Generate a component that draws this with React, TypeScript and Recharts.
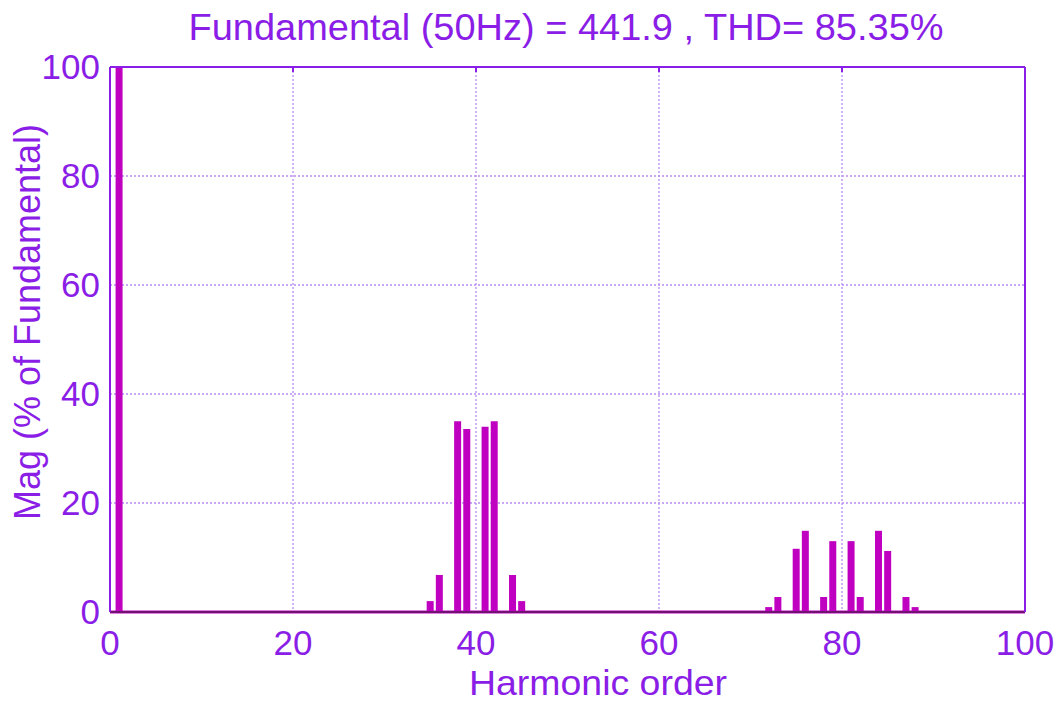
import { Bar, BarChart, CartesianGrid, ReferenceLine, XAxis, YAxis } from "recharts";

// harmonic order 0..100, magnitude in % of fundamental
const harmonicOrders = [
  0, 1, 2, 3, 4, 5, 6, 7, 8, 9, 10, 11, 12, 13, 14, 15, 16, 17, 18, 19, 20,
  21, 22, 23, 24, 25, 26, 27, 28, 29, 30, 31, 32, 33, 34, 35, 36, 37, 38, 39, 40,
  41, 42, 43, 44, 45, 46, 47, 48, 49, 50, 51, 52, 53, 54, 55, 56, 57, 58, 59, 60,
  61, 62, 63, 64, 65, 66, 67, 68, 69, 70, 71, 72, 73, 74, 75, 76, 77, 78, 79, 80,
  81, 82, 83, 84, 85, 86, 87, 88, 89, 90, 91, 92, 93, 94, 95, 96, 97, 98, 99, 100,
];

const magnitudes = [
  0, 100, 0, 0, 0, 0, 0, 0, 0, 0, 0, 0, 0, 0, 0, 0, 0, 0, 0, 0, 0,
  0, 0, 0, 0, 0, 0, 0, 0, 0, 0, 0, 0, 0, 0, 2.0, 6.8, 0, 35.0, 33.6, 0,
  34.0, 35.0, 0, 6.8, 2.0, 0, 0, 0, 0, 0, 0, 0, 0, 0, 0, 0, 0, 0, 0, 0,
  0, 0, 0, 0, 0, 0, 0, 0, 0, 0, 0, 0.9, 2.75, 0, 11.6, 14.9, 0, 2.75, 13.0, 0,
  13.0, 2.75, 0, 14.9, 11.2, 0, 2.75, 0.9, 0, 0, 0, 0, 0, 0, 0, 0, 0, 0, 0, 0,
];

const xTicks = [0, 20, 40, 60, 80, 100];
const yTicks = [0, 20, 40, 60, 80, 100];

const titleText = "Fundamental (50Hz) = 441.9 , THD= 85.35%";
const xLabelText = "Harmonic order";
const yLabelText = "Mag (% of Fundamental)";

const PURPLE = "#8A1DE6";
const MAGENTA = "#C000C0";
const GRID = "#B98CF2";
const FONT = "'Liberation Sans', Arial, sans-serif";

const data = harmonicOrders.map((h, i) => ({ order: h, mag: magnitudes[i] }));

const blankTick = () => <g />;

export default function App() {
  return (
    <div style={{ position: "absolute", left: 0, top: 0, width: 1063, height: 701, overflow: "hidden", background: "#fff", fontFamily: FONT }}>
      <div
        style={{
          position: "absolute",
          left: 166,
          width: 800,
          top: 7,
          textAlign: "center",
          fontSize: 36,
          color: PURPLE,
          whiteSpace: "nowrap",
          transform: "scaleX(1.055)",
        }}
      >
        {titleText}
      </div>
      <BarChart
        width={1063}
        height={701}
        data={data}
        margin={{ top: 67, right: 37, bottom: 39, left: 50 }}
        barGap={0}
      >
        <CartesianGrid stroke={GRID} strokeDasharray="2 2" strokeWidth={1.3} xAxisId="bottom" yAxisId="left" />
        <XAxis
          xAxisId="bottom"
          dataKey="order"
          type="number"
          domain={[0, 100]}
          ticks={xTicks}
          interval={0}
          height={50}
          tickSize={0}
          tickMargin={18}
          axisLine={{ stroke: "#222", strokeWidth: 1 }}
          tick={{ fill: PURPLE, fontSize: 35, fontFamily: FONT }}
        />
        <XAxis
          xAxisId="top"
          dataKey="order"
          type="number"
          orientation="top"
          domain={[0, 100]}
          ticks={xTicks}
          height={1}
          mirror
          tickSize={5}
          tick={blankTick}
          axisLine={{ stroke: PURPLE, strokeWidth: 2 }}
          tickLine={{ stroke: PURPLE, strokeWidth: 2 }}
        />
        <YAxis
          yAxisId="left"
          domain={[0, 100]}
          ticks={yTicks}
          interval={0}
          width={60}
          tickSize={0}
          tickMargin={10}
          axisLine={{ stroke: PURPLE, strokeWidth: 2 }}
          tick={{ fill: PURPLE, fontSize: 35, fontFamily: FONT }}
        />
        <YAxis
          yAxisId="right"
          orientation="right"
          domain={[0, 100]}
          ticks={yTicks}
          width={1}
          tickSize={4}
          tick={blankTick}
          axisLine={{ stroke: PURPLE, strokeWidth: 2 }}
          tickLine={{ stroke: PURPLE, strokeWidth: 2 }}
        />
        <Bar
          dataKey="mag"
          xAxisId="bottom"
          yAxisId="left"
          fill={MAGENTA}
          barSize={7}
          isAnimationActive={false}
        />
        <ReferenceLine y={0} xAxisId="bottom" yAxisId="left" stroke={MAGENTA} strokeWidth={3} />
      </BarChart>
      <div
        style={{
          position: "absolute",
          left: 398,
          width: 400,
          top: 668,
          height: 30,
          lineHeight: "30px",
          textAlign: "center",
          fontSize: 35,
          color: PURPLE,
          whiteSpace: "nowrap",
          transform: "scaleX(1.07)",
        }}
      >
        {xLabelText}
      </div>
      <div
        style={{
          position: "absolute",
          left: 28 - 250,
          top: 322 - 20,
          width: 500,
          height: 40,
          lineHeight: "40px",
          textAlign: "center",
          fontSize: 36,
          color: PURPLE,
          whiteSpace: "nowrap",
          transform: "rotate(-90deg)",
        }}
      >
        {yLabelText}
      </div>
    </div>
  );
}
